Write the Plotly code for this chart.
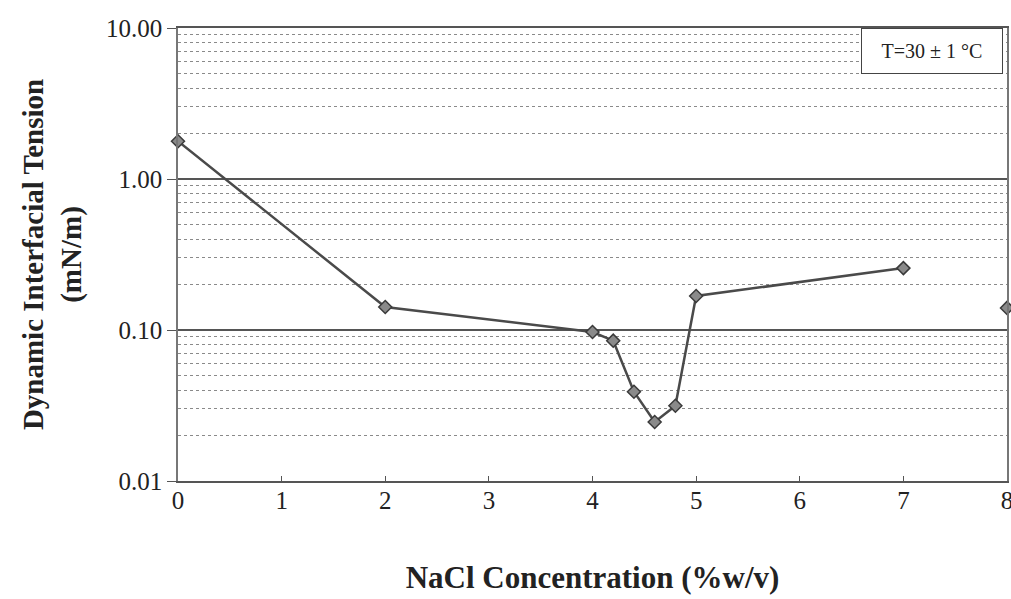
import plotly.graph_objects as go

nacl = [0, 2, 4, 4.2, 4.4, 4.6, 4.8, 5, 7]
ift = [1.78, 0.142, 0.097, 0.085, 0.039, 0.0246, 0.0315, 0.168, 0.257]
edge_x = [8]
edge_y = [0.14]
x_ticks = [0, 1, 2, 3, 4, 5, 6, 7, 8]
y_ticks = [0.01, 0.1, 1, 10]
y_tick_text = ["0.01", "0.10", "1.00", "10.00"]

serif = "Liberation Serif, Times New Roman, serif"

fig = go.Figure()
fig.add_trace(go.Scatter(
    x=nacl, y=ift, mode="lines+markers", cliponaxis=False,
    line=dict(color="#4a4a4a", width=2.5),
    marker=dict(symbol="diamond", size=10, color="#8a8a8a",
                line=dict(color="#3a3a3a", width=1.5)),
    showlegend=False))
fig.add_trace(go.Scatter(
    x=edge_x, y=edge_y, mode="markers", cliponaxis=False,
    marker=dict(symbol="diamond", size=10, color="#8a8a8a",
                line=dict(color="#3a3a3a", width=1.5)),
    showlegend=False))

fig.update_layout(
    width=1011, height=599,
    margin=dict(l=178, r=4, t=28, b=118),
    paper_bgcolor="white", plot_bgcolor="white",
    font=dict(family=serif, color="#222222"),
    xaxis=dict(
        range=[0, 8], tickvals=x_ticks, ticktext=[str(v) for v in x_ticks],
        automargin=False, ticklabeloverflow="allow",
        showgrid=False, zeroline=False, showline=True, linecolor="#555555", linewidth=1.5,
        mirror=True, ticks="inside", ticklen=5, tickcolor="#555555",
        ticklabelstandoff=-4,
        tickfont=dict(size=25, family=serif, color="#222222"),
        title=dict(text="<b>NaCl Concentration (%w/v)</b>",
                   font=dict(size=31, family=serif, color="#222222"), standoff=54),
    ),
    yaxis=dict(
        type="log", range=[-2, 1], tickvals=y_ticks, ticktext=y_tick_text,
        automargin=False,
        showgrid=True, gridcolor="#555555", gridwidth=1.5,
        zeroline=False, showline=True, linecolor="#777777", linewidth=1.5,
        mirror=True, ticks="outside", ticklen=9, tickcolor="#555555",
        tickfont=dict(size=25, family=serif, color="#222222"),
        minor=dict(dtick="D1", showgrid=True, gridcolor="#8a8a8a",
                   griddash="dot", gridwidth=1, ticks=""),
        title=dict(text="<b>Dynamic Interfacial Tension<br>(mN/m)</b>",
                   font=dict(size=29, family=serif, color="#222222"), standoff=16),
    ),
)

fig.add_annotation(
    x=0.9955, y=1.0, xref="paper", yref="paper", xanchor="right", yanchor="top",
    text="T=30 ± 1 °C", showarrow=False,
    font=dict(size=20, family=serif, color="#222222"),
    bordercolor="#444444", borderwidth=1, bgcolor="white",
    width=138, height=42, align="center")

fig.write_html(
    "out.html",
    config={"displayModeBar": False},
    post_script="document.body.style.margin='0';document.body.style.overflow='hidden';")
